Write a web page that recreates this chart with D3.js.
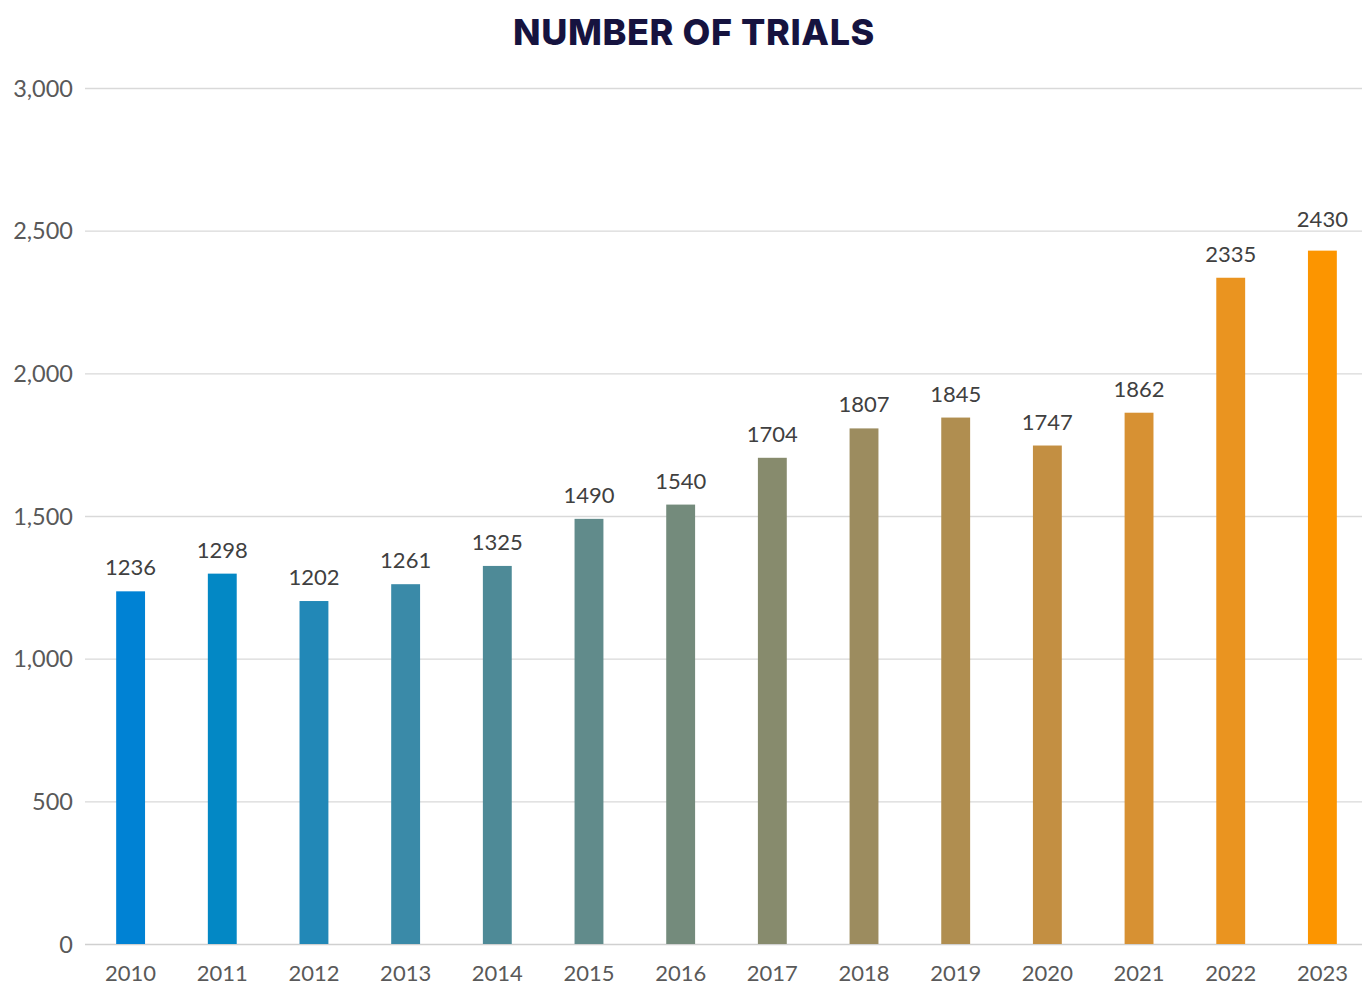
<!DOCTYPE html>
<html>
<head>
<meta charset="utf-8">
<script src="https://d3js.org/d3.v7.min.js"></script>
<style>
  body { margin: 0; background: #fff; }
  text { font-family: "Lato", "Noto Sans", sans-serif; }
</style>
</head>
<body>
<div id="chart"></div>
<script>
var years = ["2010","2011","2012","2013","2014","2015","2016","2017","2018","2019","2020","2021","2022","2023"];
var trials = [1236, 1298, 1202, 1261, 1325, 1490, 1540, 1704, 1807, 1845, 1747, 1862, 2335, 2430];
var barColors = ["#0082D4","#0388C5","#2288B7","#3A8AA8","#4E8A97","#618B8B","#748B7C",
                 "#878B6D","#9C8C5F","#B08E50","#C38F42","#D79133","#EA9420","#FC9500"];
var yTicks = [0, 500, 1000, 1500, 2000, 2500, 3000];

var width = 1362, height = 986;

var svg = d3.select("#chart")
  .append("svg")
    .attr("width", width)
    .attr("height", height);

// title
svg.append("text")
  .attr("x", 694)
  .attr("y", 45)
  .attr("text-anchor", "middle")
  .style("font-family", "Inter, sans-serif")
  .style("font-weight", 800)
  .style("font-size", "36px")
  .style("letter-spacing", "0.6px")
  .style("fill", "#16133F")
  .text("NUMBER OF TRIALS");

var x = d3.scaleBand()
  .domain(years)
  .range([85, 1368])
  .paddingInner(0.685)
  .paddingOuter(0.34);

var y = d3.scaleLinear()
  .domain([0, 3000])
  .range([944, 88]);

// gridlines
svg.append("g")
  .selectAll("line")
  .data(yTicks)
  .enter().append("line")
    .attr("x1", 85)
    .attr("x2", 1362)
    .attr("y1", function(d) { return y(d) + 0.5; })
    .attr("y2", function(d) { return y(d) + 0.5; })
    .style("stroke", function(d) { return d === 0 ? "#d0d0d0" : "#d9d9d9"; })
    .style("stroke-width", 1.3);

// y axis
var yAxis = svg.append("g")
  .attr("transform", "translate(73,0)")
  .call(d3.axisLeft(y).tickValues(yTicks).tickSize(0).tickPadding(0).tickFormat(d3.format(",")));
yAxis.select(".domain").remove();
yAxis.selectAll("text")
  .attr("dy", "0.35em")
  .style("font-family", "Lato, sans-serif")
  .style("font-size", "23.5px")
  .style("fill", "#595959");

// bars
svg.append("g")
  .selectAll("rect")
  .data(trials)
  .enter().append("rect")
    .attr("x", function(d, i) { return x(years[i]); })
    .attr("width", x.bandwidth())
    .attr("y", function(d) { return y(d); })
    .attr("height", function(d) { return y(0) - y(d); })
    .style("fill", function(d, i) { return barColors[i]; });

// value labels, lifted clear of a gridline when they would sit on one
function labelY(d) {
  var ly = y(d) - 16;
  var hit = yTicks.some(function(t) { return Math.abs(y(t) - (ly - 8)) < 10; });
  return hit ? ly - 8 : ly;
}
svg.append("g")
  .selectAll("text")
  .data(trials)
  .enter().append("text")
    .attr("x", function(d, i) { return x(years[i]) + x.bandwidth() / 2; })
    .attr("y", labelY)
    .attr("text-anchor", "middle")
    .style("font-size", "22px")
    .style("fill", "#404040")
    .text(function(d) { return d; });

// x axis
var xAxis = svg.append("g")
  .attr("transform", "translate(0,944)")
  .call(d3.axisBottom(x).tickSize(0).tickPadding(21));
xAxis.select(".domain").remove();
xAxis.selectAll("text")
  .style("font-family", "Lato, sans-serif")
  .style("font-size", "22px")
  .style("fill", "#595959");
</script>
</body>
</html>
